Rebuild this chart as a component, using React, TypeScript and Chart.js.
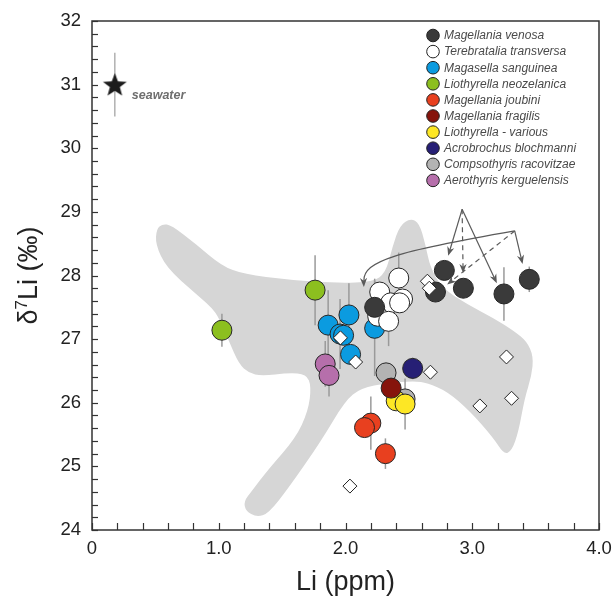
import React, { useEffect, useRef } from 'react';
import { Chart, registerables } from 'chart.js';

Chart.register(...registerables);

// ---------- data ----------
const xTickLabels: Record<number, string> = { 0: '0', 1: '1.0', 2: '2.0', 3: '3.0', 4: '4.0' };
const yTickLabels: Record<number, string> = { 24: '24', 25: '25', 26: '26', 27: '27', 28: '28', 29: '29', 30: '30', 31: '31', 32: '32' };

const speciesNames = [
  'Magellania venosa',
  'Terebratalia transversa',
  'Magasella sanguinea',
  'Liothyrella neozelanica',
  'Magellania joubini',
  'Magellania fragilis',
  'Liothyrella - various',
  'Acrobrochus blochmanni',
  'Compsothyris racovitzae',
  'Aerothyris kerguelensis',
];
const speciesColors = [
  '#3a3a3a', '#ffffff', '#0b9be0', '#8cbf1f', '#e8401f',
  '#86140c', '#fde725', '#261f75', '#b3b3b3', '#b66fab',
];

const venosaLi = [2.78, 2.71, 2.93, 3.25, 3.45, 2.23];
const venosaD7 = [28.08, 27.74, 27.80, 27.71, 27.94, 27.50];
const venosaErr = [0, 0, 0, 0.42, 0.2, 0.45];

const transversaLi = [2.42, 2.27, 2.45, 2.356, 2.427, 2.254, 2.34];
const transversaD7 = [27.96, 27.74, 27.63, 27.57, 27.57, 27.36, 27.28];
const transversaErr = [0.4, 0, 0, 0, 0, 0, 0.39];

const sanguineaLi = [1.863, 2.027, 1.957, 1.985, 2.04, 2.23];
const sanguineaD7 = [27.22, 27.38, 27.08, 27.06, 26.76, 27.17];
const sanguineaErr = [0.55, 0.5, 0.55, 0, 0, 0.75];

const neozelanicaLi = [1.76, 1.025];
const neozelanicaD7 = [27.77, 27.14];
const neozelanicaErr = [0.55, 0.26];

const joubiniLi = [2.2, 2.15, 2.315];
const joubiniD7 = [25.68, 25.61, 25.2];
const joubiniErr = [0.42, 0, 0.24];

const fragilisLi = [2.36];
const fragilisD7 = [26.23];
const fragilisErr = [0];

const variousLi = [2.4, 2.47];
const variousD7 = [26.03, 25.98];
const variousErr = [0, 0.4];

const blochmanniLi = [2.53];
const blochmanniD7 = [26.54];
const blochmanniErr = [0.17];

const racovitzaeLi = [2.32, 2.47];
const racovitzaeD7 = [26.47, 26.06];
const racovitzaeErr = [0, 0];

const kerguelensisLi = [1.84, 1.87];
const kerguelensisD7 = [26.61, 26.43];
const kerguelensisErr = [0.36, 0.33];

const literatureLi = [1.96, 2.08, 2.646, 2.661, 2.67, 3.27, 3.31, 3.06, 2.035];
const literatureD7 = [27.02, 26.64, 27.91, 27.8, 26.48, 26.72, 26.07, 25.95, 24.69];

const seawaterLi = [0.18];
const seawaterD7 = [31.0];
const seawaterErr = [0.5];

// grey field (outline, data units)
const fieldLi = [
  0.509, 0.556, 0.626, 0.822, 1.025, 1.198, 1.55, 1.941, 2.215, 2.317, 2.372, 2.427, 2.513, 2.583,
  2.63, 2.669, 2.763, 2.959, 3.17, 3.327, 3.429, 3.483, 3.468, 3.413, 3.366, 3.311, 3.249, 3.17,
  2.982, 2.802, 2.646, 2.544, 2.333, 2.121, 1.996, 1.808, 1.55, 1.393, 1.299, 1.213, 1.198, 1.26,
  1.393, 1.605, 1.706, 1.73, 1.691, 1.55, 1.339, 1.237, 1.159, 1.08, 1.002, 0.947, 0.822, 0.587, 0.501,
];
const fieldD7 = [
  28.73, 28.81, 28.79, 28.49, 28.15, 28.02, 27.93, 27.88, 27.9, 28.04, 28.46, 28.78, 28.9, 28.82,
  28.49, 28.12, 27.8, 27.55, 27.33, 27.13, 26.97, 26.73, 26.42, 26.07, 25.55, 25.24, 25.19, 25.44,
  25.87, 26.18, 26.31, 26.34, 26.31, 26.23, 26.03, 25.4, 24.66, 24.26, 24.2, 24.3, 24.45, 24.61,
  24.96, 25.44, 25.87, 26.26, 26.45, 26.47, 26.42, 26.47, 26.61, 26.97, 27.33, 27.49, 27.71, 28.12, 28.49,
];

// annotation arrows
const arrowFromLi = [2.92, 2.92, 2.92, 3.335, 3.335];
const arrowFromD7 = [29.04, 29.04, 29.04, 28.7, 28.7];
const arrowToLi = [2.81, 2.928, 3.194, 3.397, 2.802];
const arrowToD7 = [28.31, 28.04, 27.88, 28.18, 27.86];
const arrowDashed = [false, true, false, false, true];
const curveArrowLi = [3.335, 2.41, 2.137, 2.145];
const curveArrowD7 = [28.7, 28.38, 28.23, 27.82];

const FONT = '"Liberation Sans", Arial, Helvetica, sans-serif';

function makeStar(r: number, color: string) {
  const c = document.createElement('canvas');
  const s = Math.ceil(r * 2 + 2);
  c.width = s;
  c.height = s;
  const g = c.getContext('2d')!;
  g.fillStyle = color;
  g.beginPath();
  for (let i = 0; i < 10; i++) {
    const ang = -Math.PI / 2 + (i * Math.PI) / 5;
    const rr = i % 2 === 0 ? r : r * 0.42;
    const px = s / 2 + rr * Math.cos(ang);
    const py = s / 2 + 1 + rr * Math.sin(ang);
    if (i === 0) g.moveTo(px, py);
    else g.lineTo(px, py);
  }
  g.closePath();
  g.fill();
  return c;
}

function arrowHead(ctx: CanvasRenderingContext2D, fx: number, fy: number, tx: number, ty: number) {
  const ang = Math.atan2(ty - fy, tx - fx);
  const len = 9;
  const hw = 3.6;
  const cos = Math.cos(ang);
  const sin = Math.sin(ang);
  const bx = tx - len * cos;
  const by = ty - len * sin;
  const nx = tx - len * 0.7 * cos;
  const ny = ty - len * 0.7 * sin;
  ctx.beginPath();
  ctx.moveTo(tx, ty);
  ctx.lineTo(bx - hw * sin, by + hw * cos);
  ctx.lineTo(nx, ny);
  ctx.lineTo(bx + hw * sin, by - hw * cos);
  ctx.closePath();
  ctx.fill();
}

const customPlugin = {
  id: 'customDecor',
  beforeDatasetsDraw(chart: any) {
    const { ctx, chartArea: a, scales } = chart;
    const x = scales.x;
    const y = scales.y;
    ctx.save();
    ctx.beginPath();
    ctx.rect(a.left, a.top, a.right - a.left, a.bottom - a.top);
    ctx.clip();
    // grey field
    const pts = fieldLi.map((v, i) => [x.getPixelForValue(v), y.getPixelForValue(fieldD7[i])]);
    const n = pts.length;
    const mid = (p: number[], q: number[]) => [(p[0] + q[0]) / 2, (p[1] + q[1]) / 2];
    ctx.beginPath();
    const m0 = mid(pts[n - 1], pts[0]);
    ctx.moveTo(m0[0], m0[1]);
    for (let i = 0; i < n; i++) {
      const q = mid(pts[i], pts[(i + 1) % n]);
      ctx.quadraticCurveTo(pts[i][0], pts[i][1], q[0], q[1]);
    }
    ctx.closePath();
    ctx.fillStyle = '#d6d6d6';
    ctx.fill();
    // error bars
    chart.data.datasets.forEach((ds: any) => {
      const e = ds.errorBars;
      if (!e) return;
      ctx.strokeStyle = ds.errorColor || '#9a9a9a';
      ctx.lineWidth = 1.5;
      ds.data.forEach((p: any, i: number) => {
        if (!e[i]) return;
        const px = x.getPixelForValue(p.x);
        ctx.beginPath();
        ctx.moveTo(px, y.getPixelForValue(p.y + e[i]));
        ctx.lineTo(px, y.getPixelForValue(p.y - e[i]));
        ctx.stroke();
      });
    });
    ctx.restore();
  },
  afterDatasetsDraw(chart: any) {
    const { ctx, scales } = chart;
    const x = scales.x;
    const y = scales.y;
    ctx.save();
    ctx.strokeStyle = '#5a5a5a';
    ctx.fillStyle = '#5a5a5a';
    ctx.lineWidth = 1.2;
    arrowFromLi.forEach((v, i) => {
      const fx = x.getPixelForValue(v);
      const fy = y.getPixelForValue(arrowFromD7[i]);
      const tx = x.getPixelForValue(arrowToLi[i]);
      const ty = y.getPixelForValue(arrowToD7[i]);
      ctx.setLineDash(arrowDashed[i] ? [5, 4] : []);
      const ang = Math.atan2(ty - fy, tx - fx);
      ctx.beginPath();
      ctx.moveTo(fx, fy);
      ctx.lineTo(tx - 6 * Math.cos(ang), ty - 6 * Math.sin(ang));
      ctx.stroke();
      ctx.setLineDash([]);
      arrowHead(ctx, fx, fy, tx, ty);
    });
    const cp = curveArrowLi.map((v, i) => [x.getPixelForValue(v), y.getPixelForValue(curveArrowD7[i])]);
    ctx.setLineDash([]);
    ctx.beginPath();
    ctx.moveTo(cp[0][0], cp[0][1]);
    ctx.bezierCurveTo(cp[1][0], cp[1][1], cp[2][0], cp[2][1], cp[3][0], cp[3][1] - 6);
    ctx.stroke();
    arrowHead(ctx, cp[2][0], cp[2][1], cp[3][0], cp[3][1]);
    ctx.restore();
  },
  afterDraw(chart: any) {
    const { ctx, chartArea: a, scales } = chart;
    const x = scales.x;
    const y = scales.y;
    ctx.save();
    // ticks (inward)
    ctx.strokeStyle = '#333';
    ctx.lineWidth = 1.2;
    x.ticks.forEach((t: any) => {
      const px = Math.round(x.getPixelForValue(t.value)) + 0.5;
      ctx.beginPath();
      ctx.moveTo(px, a.bottom);
      ctx.lineTo(px, a.bottom - 7);
      ctx.stroke();
    });
    y.ticks.forEach((t: any) => {
      const py = Math.round(y.getPixelForValue(t.value)) + 0.5;
      ctx.beginPath();
      ctx.moveTo(a.left, py);
      ctx.lineTo(a.left + 6, py);
      ctx.stroke();
    });
    // frame
    ctx.lineWidth = 1.5;
    ctx.strokeStyle = '#333';
    ctx.strokeRect(a.left, a.top, a.right - a.left, a.bottom - a.top);

    // seawater label
    const sx = x.getPixelForValue(seawaterLi[0]);
    const sy = y.getPixelForValue(seawaterD7[0]);
    ctx.font = `italic bold 12.5px ${FONT}`;
    ctx.fillStyle = '#6e6e6e';
    ctx.textAlign = 'left';
    ctx.textBaseline = 'middle';
    ctx.fillText('seawater', sx + 17, sy + 11);

    // legend
    const lx = a.right - 166;
    const ly = a.top + 14.5;
    speciesNames.forEach((name, i) => {
      const cy = ly + i * 16.1;
      ctx.beginPath();
      ctx.arc(lx, cy, 6.3, 0, Math.PI * 2);
      ctx.fillStyle = speciesColors[i];
      ctx.fill();
      ctx.lineWidth = 1;
      ctx.strokeStyle = '#222';
      ctx.stroke();
      ctx.font = `italic 12px ${FONT}`;
      ctx.fillStyle = '#4a4a4a';
      ctx.textAlign = 'left';
      ctx.textBaseline = 'middle';
      ctx.fillText(name, lx + 11, cy + 0.5);
    });

    // axis titles
    ctx.fillStyle = '#222';
    ctx.font = `27px ${FONT}`;
    ctx.textAlign = 'center';
    ctx.textBaseline = 'alphabetic';
    ctx.fillText('Li (ppm)', (a.left + a.right) / 2, 590);

    ctx.save();
    ctx.translate(36.5, (a.top + a.bottom) / 2);
    ctx.rotate(-Math.PI / 2);
    const big = `27px ${FONT}`;
    const small = `17px ${FONT}`;
    ctx.font = big;
    const w1 = ctx.measureText('δ').width;
    const w3 = ctx.measureText('Li (‰)').width;
    ctx.font = small;
    const w2 = ctx.measureText('7').width;
    const total = w1 + w2 + w3;
    let cx = -total / 2;
    ctx.textAlign = 'left';
    ctx.font = big;
    ctx.fillText('δ', cx, 0);
    cx += w1;
    ctx.font = small;
    ctx.fillText('7', cx, -10);
    cx += w2;
    ctx.font = big;
    ctx.fillText('Li (‰)', cx, 0);
    ctx.restore();
    ctx.restore();
  },
};

function pts(xs: number[], ys: number[]) {
  return xs.map((v, i) => ({ x: v, y: ys[i] }));
}

export default function App() {
  const ref = useRef<HTMLCanvasElement>(null);

  useEffect(() => {
    if (!ref.current) return;
    const star = makeStar(12.5, '#1c1c1c');
    const speciesLi = [venosaLi, transversaLi, sanguineaLi, neozelanicaLi, joubiniLi, fragilisLi, variousLi, blochmanniLi, racovitzaeLi, kerguelensisLi];
    const speciesD7 = [venosaD7, transversaD7, sanguineaD7, neozelanicaD7, joubiniD7, fragilisD7, variousD7, blochmanniD7, racovitzaeD7, kerguelensisD7];
    const speciesErr = [venosaErr, transversaErr, sanguineaErr, neozelanicaErr, joubiniErr, fragilisErr, variousErr, blochmanniErr, racovitzaeErr, kerguelensisErr];

    const datasets: any[] = [
      {
        label: 'literature',
        data: pts(literatureLi, literatureD7),
        pointStyle: 'rectRot',
        pointRadius: 7,
        backgroundColor: '#ffffff',
        borderColor: '#222',
        borderWidth: 1,
      },
      {
        label: 'seawater',
        data: pts(seawaterLi, seawaterD7),
        pointStyle: star,
        pointRadius: 12,
        errorBars: seawaterErr,
        errorColor: '#b0b0b0',
      },
      ...speciesNames.map((name, i) => ({
        label: name,
        data: pts(speciesLi[i], speciesD7[i]),
        pointStyle: 'circle',
        pointRadius: 10,
        backgroundColor: speciesColors[i],
        borderColor: '#262626',
        borderWidth: 1,
        errorBars: speciesErr[i],
      })),
    ];

    const chart = new Chart(ref.current, {
      type: 'scatter',
      data: { datasets },
      options: {
        animation: false,
        responsive: true,
        maintainAspectRatio: false,
        events: [],
        layout: { padding: { top: 21, right: 9, left: 0, bottom: 0 } },
        plugins: { legend: { display: false }, tooltip: { enabled: false } },
        scales: {
          x: {
            type: 'linear',
            min: 0,
            max: 4,
            grid: { display: false, drawTicks: false },
            border: { display: false },
            ticks: {
              stepSize: 0.2,
              autoSkip: false,
              maxRotation: 0,
              padding: 8,
              color: '#222',
              font: { family: FONT, size: 18.5 },
              callback: (v: any) => {
                const r = Math.round(v);
                return Math.abs(v - r) < 1e-6 ? xTickLabels[r] ?? '' : '';
              },
            },
            afterFit: (s: any) => {
              s.height = 68;
              s.paddingLeft = 0;
              s.paddingRight = 0;
            },
          },
          y: {
            type: 'linear',
            min: 24,
            max: 32,
            grid: { display: false, drawTicks: false },
            border: { display: false },
            ticks: {
              stepSize: 0.2,
              autoSkip: false,
              padding: 11,
              color: '#222',
              font: { family: FONT, size: 18.5 },
              callback: (v: any) => {
                const r = Math.round(v);
                return Math.abs(v - r) < 1e-6 ? yTickLabels[r] ?? '' : '';
              },
            },
            afterFit: (s: any) => {
              s.width = 92;
              s.paddingTop = 0;
              s.paddingBottom = 0;
            },
          },
        },
      },
      plugins: [customPlugin],
    });
    return () => chart.destroy();
  }, []);

  return (
    <div style={{ position: 'absolute', left: 0, top: 0, width: 612, height: 598, background: '#fff' }}>
      <canvas ref={ref} />
    </div>
  );
}
